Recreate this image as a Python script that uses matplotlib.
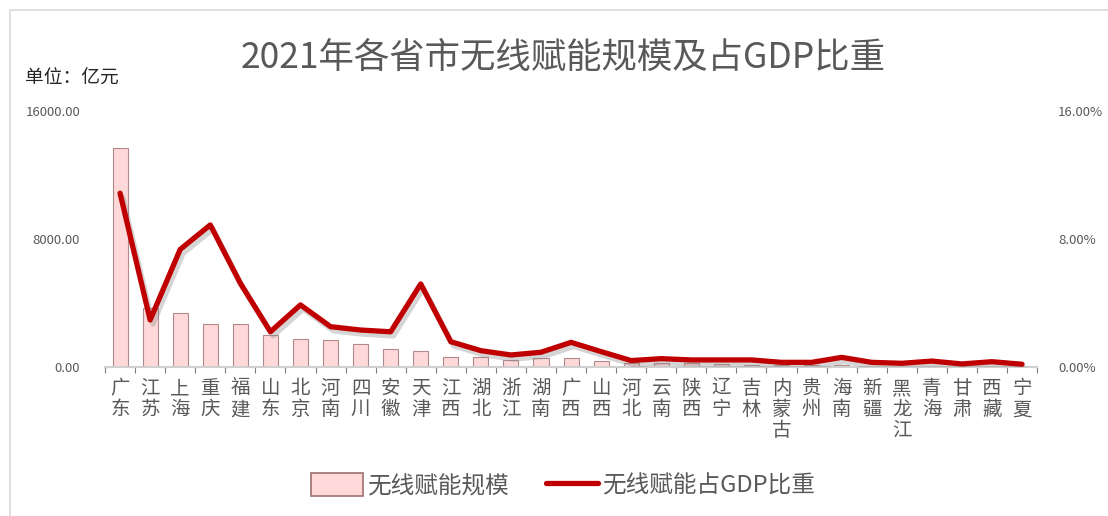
import matplotlib
matplotlib.use("Agg")
import matplotlib.pyplot as plt
import matplotlib.patheffects as pe
from matplotlib.patches import Rectangle
from matplotlib.lines import Line2D
from matplotlib.ticker import FixedLocator

plt.rcParams['font.family'] = ['Noto Sans CJK SC', 'DejaVu Sans']

provinces = ['广东', '江苏', '上海', '重庆', '福建', '山东', '北京', '河南', '四川', '安徽',
             '天津', '江西', '湖北', '浙江', '湖南', '广西', '山西', '河北', '云南', '陕西',
             '辽宁', '吉林', '内蒙古', '贵州', '海南', '新疆', '黑龙江', '青海', '甘肃', '西藏', '宁夏']
scale = [13700, 3700, 3350, 2670, 2670, 2000, 1750, 1670, 1420, 1100,
         1020, 650, 610, 440, 540, 540, 380, 250, 230, 220,
         200, 120, 100, 100, 100, 60, 60, 30, 30, 15, 15]
share = [10.86, 2.94, 7.35, 8.88, 5.23, 2.20, 3.88, 2.52, 2.31, 2.20,
         5.19, 1.58, 1.02, 0.75, 0.92, 1.54, 0.96, 0.40, 0.52, 0.44,
         0.44, 0.44, 0.29, 0.29, 0.60, 0.29, 0.23, 0.37, 0.19, 0.33, 0.17]

bar_color = '#FFD9D9'
line_color = '#C00000'
text_gray = '#595959'

fig = plt.figure(figsize=(11.08, 5.16), dpi=100)
ax = fig.add_axes([0.0948, 0.2888, 0.8412, 0.4961])
ax2 = ax.twinx()

x = list(range(len(provinces)))
ax.bar(x, scale, width=0.5, color=bar_color, edgecolor='#B08A8A', linewidth=0.8, zorder=2)
ax.set_ylim(0, 16000)
ax.set_xlim(-0.5, len(provinces) - 0.5)
ax.set_yticks([0, 8000, 16000])
ax.set_yticklabels(['0.00', '8000.00', '16000.00'], fontsize=9.5, color=text_gray)
ax.tick_params(axis='y', length=0, pad=18)

ax.set_xticks(x)
ax.set_xticklabels(['\n'.join(p) for p in provinces], fontsize=14, color=text_gray,
                   linespacing=1.0, va='top')
ax.tick_params(axis='x', length=0, pad=8)
ax.xaxis.set_minor_locator(FixedLocator([i + 0.5 for i in range(-1, len(provinces))]))
ax.tick_params(axis='x', which='minor', length=4, color='#7F7F7F', width=0.8)

for s in ['top', 'left', 'right']:
    ax.spines[s].set_visible(False)
    ax2.spines[s].set_visible(False)
ax.spines['bottom'].set_color('#D0D0D0')
ax.spines['bottom'].set_linewidth(1.5)
ax2.spines['bottom'].set_visible(False)

ax2.plot(x, share, color=line_color, linewidth=3.8, solid_capstyle='round', solid_joinstyle='round',
         zorder=3, path_effects=[pe.SimpleLineShadow(offset=(2, -3), shadow_color='#888888', alpha=0.35),
                                 pe.Normal()])
ax2.set_ylim(0, 16)
ax2.set_yticks([0, 8, 16])
ax2.set_yticklabels(['0.00%', '8.00%', '16.00%'], fontsize=9.5, color=text_gray)
ax2.tick_params(axis='y', length=0, pad=15)

fig.text(0.508, 0.888, '2021年各省市无线赋能规模及占GDP比重', ha='center', va='center',
         fontsize=25.5, color=text_gray, fontweight='light')
fig.text(0.023, 0.848, '单位：亿元', ha='left', va='center', fontsize=13.5, color='#262626')

# outer frame
fig.patches.append(Rectangle((0.009, -0.05), 1.2, 1.03, transform=fig.transFigure,
                             fill=False, edgecolor='#D9D9D9', linewidth=1.2))

handles = [Rectangle((0, 0), 1, 1, facecolor=bar_color, edgecolor='#9C7070', linewidth=1.2),
           Line2D([0], [0], color=line_color, linewidth=3.8, solid_capstyle='round')]
fig.legend(handles, ['无线赋能规模', '无线赋能占GDP比重'], loc='center', bbox_to_anchor=(0.508, 0.06),
           ncol=2, frameon=False, fontsize=17, handlelength=2.2, handleheight=1.1,
           handletextpad=0.15, columnspacing=1.6, labelcolor=text_gray)

fig.savefig('out.png', dpi=100)
